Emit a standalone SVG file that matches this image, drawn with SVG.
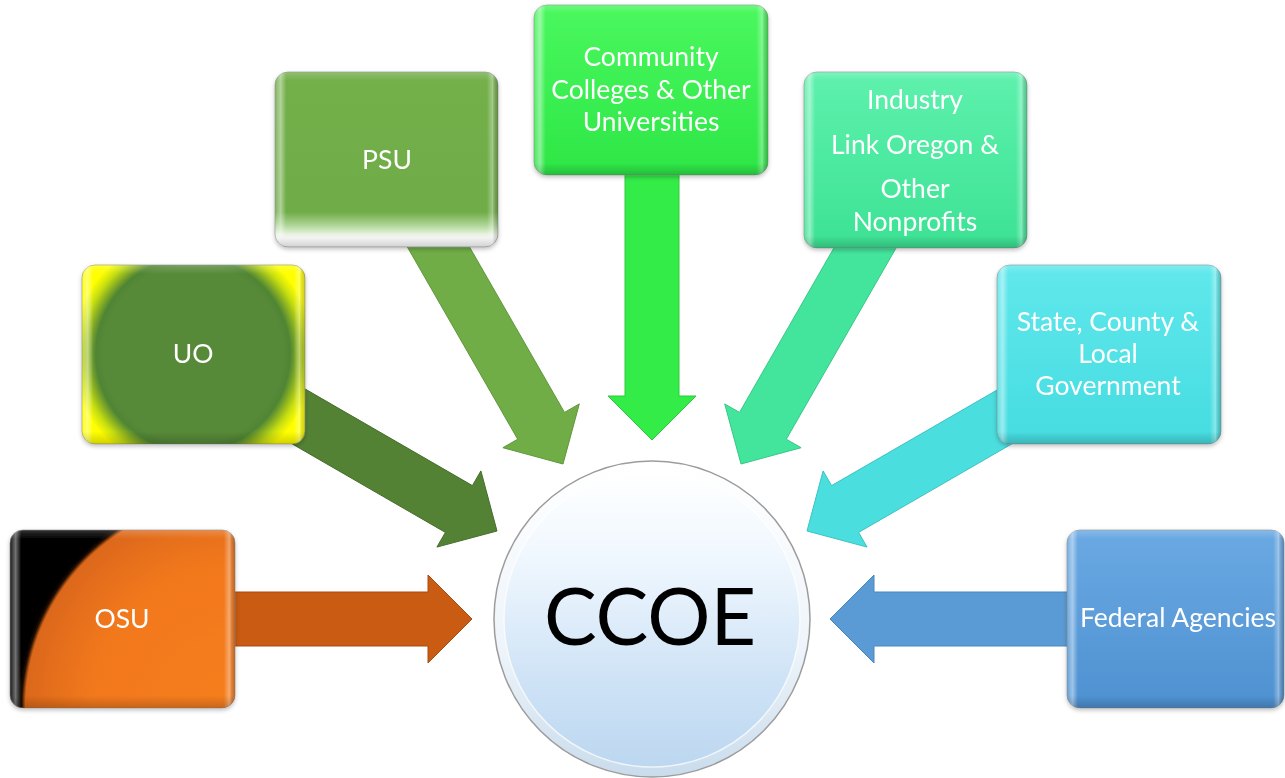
<svg xmlns="http://www.w3.org/2000/svg" width="1285" height="778" viewBox="0 0 1285 778">
<defs>
  <radialGradient id="gOSU" gradientUnits="userSpaceOnUse" cx="235" cy="708" r="262">
    <stop offset="0" stop-color="#F67E1E"/>
    <stop offset="0.55" stop-color="#F2781C"/>
    <stop offset="0.8" stop-color="#DC681A"/>
    <stop offset="0.815" stop-color="#1a0a00"/>
    <stop offset="0.83" stop-color="#000000"/>
    <stop offset="1" stop-color="#000000"/>
  </radialGradient>
  <radialGradient id="gUO" gradientUnits="userSpaceOnUse" cx="193" cy="354" r="135">
    <stop offset="0" stop-color="#578A38"/>
    <stop offset="0.66" stop-color="#578A38"/>
    <stop offset="0.72" stop-color="#4F8534"/>
    <stop offset="0.83" stop-color="#C8DF10"/>
    <stop offset="0.9" stop-color="#FFFF00"/>
    <stop offset="1" stop-color="#FFFF00"/>
  </radialGradient>
  <linearGradient id="gPSU" x1="0" y1="0" x2="0" y2="1">
    <stop offset="0" stop-color="#74B04B"/>
    <stop offset="0.8" stop-color="#6FAC47"/>
    <stop offset="0.87" stop-color="#A9D28F"/>
    <stop offset="0.95" stop-color="#FFFFFF"/>
    <stop offset="1" stop-color="#FFFFFF"/>
  </linearGradient>
  <linearGradient id="gCC" x1="0" y1="0" x2="0" y2="1">
    <stop offset="0" stop-color="#4AF85E"/>
    <stop offset="1" stop-color="#2DE646"/>
  </linearGradient>
  <linearGradient id="gIND" x1="0" y1="0" x2="0" y2="1">
    <stop offset="0" stop-color="#5EF1AD"/>
    <stop offset="1" stop-color="#3CE294"/>
  </linearGradient>
  <linearGradient id="gST" x1="0" y1="0" x2="0" y2="1">
    <stop offset="0" stop-color="#60E8EC"/>
    <stop offset="1" stop-color="#45DCE0"/>
  </linearGradient>
  <linearGradient id="gFED" x1="0" y1="0" x2="0" y2="1">
    <stop offset="0" stop-color="#6AA9E3"/>
    <stop offset="1" stop-color="#4E91D1"/>
  </linearGradient>
  <linearGradient id="bevH" x1="0" y1="0" x2="1" y2="0">
    <stop offset="0" stop-color="#FFFFFF" stop-opacity="0.1"/>
    <stop offset="0.025" stop-color="#FFFFFF" stop-opacity="0.45"/>
    <stop offset="0.05" stop-color="#FFFFFF" stop-opacity="0"/>
    <stop offset="0.95" stop-color="#FFFFFF" stop-opacity="0"/>
    <stop offset="0.975" stop-color="#FFFFFF" stop-opacity="0.35"/>
    <stop offset="1" stop-color="#000000" stop-opacity="0.15"/>
  </linearGradient>
  <linearGradient id="bevV" x1="0" y1="0" x2="0" y2="1">
    <stop offset="0" stop-color="#FFFFFF" stop-opacity="0.2"/>
    <stop offset="0.05" stop-color="#FFFFFF" stop-opacity="0"/>
    <stop offset="0.93" stop-color="#000000" stop-opacity="0"/>
    <stop offset="1" stop-color="#000000" stop-opacity="0.18"/>
  </linearGradient>
  <linearGradient id="ring" x1="0" y1="0" x2="0" y2="1">
    <stop offset="0" stop-color="#FFFFFF"/>
    <stop offset="0.6" stop-color="#EEF4FA"/>
    <stop offset="1" stop-color="#C9DCEC"/>
  </linearGradient>
  <linearGradient id="core" x1="0" y1="0" x2="0" y2="1">
    <stop offset="0" stop-color="#FFFFFF"/>
    <stop offset="0.3" stop-color="#EFF7FE"/>
    <stop offset="0.7" stop-color="#CFE3F6"/>
    <stop offset="1" stop-color="#BCD7F0"/>
  </linearGradient>
  <filter id="sh" x="-10%" y="-10%" width="120%" height="125%">
    <feDropShadow dx="0" dy="2" stdDeviation="2" flood-color="#000" flood-opacity="0.25"/>
  </filter>
</defs>
<style>
  .box { stroke: #7f7f7f; stroke-opacity: 0.55; stroke-width: 1; }
  .bev { stroke: none; }
  .lbl { font-family: Lato, "Open Sans", "Liberation Sans", sans-serif; font-size: 26.5px; fill: #FFFFFF; text-anchor: middle; }
  .arr { stroke-width: 1; stroke-linejoin: miter; }
  .ccoe { font-family: Lato, "Open Sans", "Liberation Sans", sans-serif; font-size: 79px; fill: #000000; text-anchor: middle; }
</style>

<g id="connectors">
  <polygon class="arr" fill="#C95B12" stroke="#A84B0E" points="200,592 428,592 428,575 472,619 428,663 428,646 200,646"/>
  <polygon class="arr" fill="#548235" stroke="#466E2C" points="302.7,387.6 472.4,485.6 480.9,470.9 497,531 436.9,547.1 445.4,532.4 275.7,434.4"/>
  <polygon class="arr" fill="#70AD47" stroke="#5E973B" points="405.2,243.2 517.7,439.2 502.9,447.7 563,464 579.3,403.9 564.5,412.4 452,216.4"/>
  <polygon class="arr" fill="#33EC47" stroke="#2BCB3C" points="625,150 679,150 679,396 696,396 652,440 608,396 625,396"/>
  <polygon class="arr" fill="#43E59C" stroke="#37C786" points="898.8,243.2 786.3,439.2 801.1,447.7 741,464 724.7,403.9 739.5,412.4 852,216.4"/>
  <polygon class="arr" fill="#4BDEDE" stroke="#3DC2C4" points="1001.3,387.6 831.6,485.6 823.1,470.9 807,531 867.1,547.1 858.6,532.4 1028.3,434.4"/>
  <polygon class="arr" fill="#5B9BD5" stroke="#4A86BE" points="1100,592 874,592 874,575 830,619 874,663 874,646 1100,646"/>
</g>

<g id="node-osu" filter="url(#sh)">
  <rect class="box" x="10" y="530" width="225" height="178" rx="13" fill="url(#gOSU)"/>
  <rect class="bev" x="10" y="530" width="225" height="178" rx="13" fill="url(#bevH)"/>
  <rect class="bev" x="10" y="530" width="225" height="178" rx="13" fill="url(#bevV)"/>
  <text class="lbl" x="122" y="628">OSU</text>
</g>

<g id="node-uo" filter="url(#sh)">
  <rect class="box" x="82" y="265" width="223" height="179" rx="13" fill="url(#gUO)"/>
  <rect class="bev" x="82" y="265" width="223" height="179" rx="13" fill="url(#bevH)"/>
  <rect class="bev" x="82" y="265" width="223" height="179" rx="13" fill="url(#bevV)"/>
  <text class="lbl" x="193" y="363">UO</text>
</g>

<g id="node-psu" filter="url(#sh)">
  <rect class="box" x="275" y="72" width="223" height="175" rx="13" fill="url(#gPSU)"/>
  <rect class="bev" x="275" y="72" width="223" height="175" rx="13" fill="url(#bevH)"/>
  <rect class="bev" x="275" y="72" width="223" height="175" rx="13" fill="url(#bevV)"/>
  <text class="lbl" x="387" y="169">PSU</text>
</g>

<g id="node-community" filter="url(#sh)">
  <rect class="box" x="534" y="5" width="234" height="170" rx="13" fill="url(#gCC)"/>
  <rect class="bev" x="534" y="5" width="234" height="170" rx="13" fill="url(#bevH)"/>
  <rect class="bev" x="534" y="5" width="234" height="170" rx="13" fill="url(#bevV)"/>
  <text class="lbl" x="651" y="66">Community</text>
  <text class="lbl" x="651" y="99">Colleges &amp; Other</text>
  <text class="lbl" x="651" y="131">Universities</text>
</g>

<g id="node-industry" filter="url(#sh)">
  <rect class="box" x="804" y="72" width="223" height="176" rx="13" fill="url(#gIND)"/>
  <rect class="bev" x="804" y="72" width="223" height="176" rx="13" fill="url(#bevH)"/>
  <rect class="bev" x="804" y="72" width="223" height="176" rx="13" fill="url(#bevV)"/>
  <text class="lbl" x="915" y="109">Industry</text>
  <text class="lbl" x="915" y="154">Link Oregon &amp;</text>
  <text class="lbl" x="915" y="198">Other</text>
  <text class="lbl" x="915" y="231">Nonprofits</text>
</g>

<g id="node-state" filter="url(#sh)">
  <rect class="box" x="997" y="265" width="224" height="179" rx="13" fill="url(#gST)"/>
  <rect class="bev" x="997" y="265" width="224" height="179" rx="13" fill="url(#bevH)"/>
  <rect class="bev" x="997" y="265" width="224" height="179" rx="13" fill="url(#bevV)"/>
  <text class="lbl" x="1108" y="331">State, County &amp;</text>
  <text class="lbl" x="1108" y="363">Local</text>
  <text class="lbl" x="1108" y="395">Government</text>
</g>

<g id="node-federal" filter="url(#sh)">
  <rect class="box" x="1067" y="530" width="217" height="178" rx="13" fill="url(#gFED)"/>
  <rect class="bev" x="1067" y="530" width="217" height="178" rx="13" fill="url(#bevH)"/>
  <rect class="bev" x="1067" y="530" width="217" height="178" rx="13" fill="url(#bevV)"/>
  <text class="lbl" x="1178" y="627">Federal Agencies</text>
</g>

<g id="node-ccoe">
  <circle cx="652" cy="619" r="158" fill="url(#ring)" stroke="#9C9C9C" stroke-width="1.5"/>
  <circle cx="652" cy="619" r="148" fill="url(#core)" stroke="#FFFFFF" stroke-opacity="0.7" stroke-width="1.5"/>
  <text class="ccoe" x="650" y="645">CCOE</text>
</g>
</svg>
